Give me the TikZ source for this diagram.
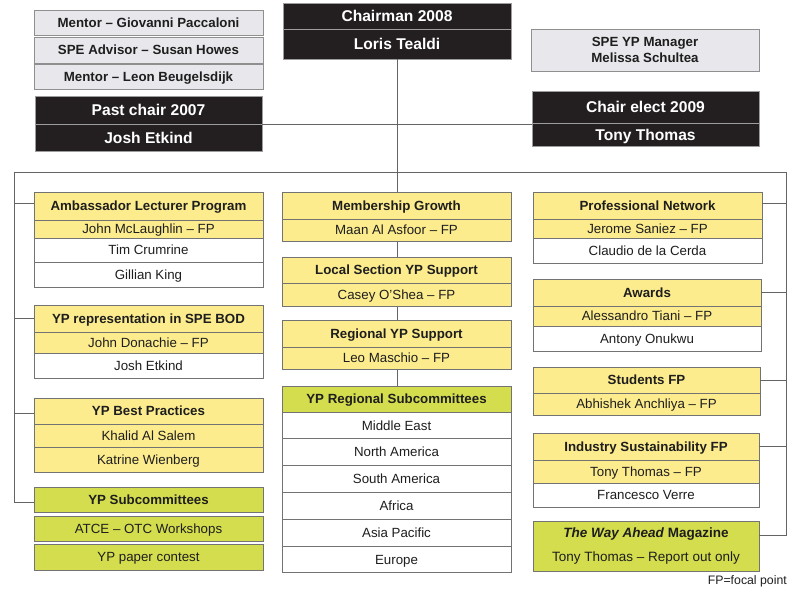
\documentclass[tikz,border=0pt]{standalone}
\usepackage{fontspec}
\setmainfont{Liberation Sans}
\definecolor{blk}{RGB}{35,31,32}
\definecolor{gryfill}{RGB}{232,232,236}
\definecolor{edge}{RGB}{115,115,115}
\definecolor{ylw}{RGB}{252,236,142}
\definecolor{grn}{RGB}{212,221,78}
\definecolor{txt}{RGB}{30,30,30}
\definecolor{wire}{RGB}{100,100,100}
\tikzset{
  base/.style={draw=edge, line width=0.9pt, inner sep=0pt, outer sep=0pt, anchor=north west,
    text=txt, align=center, font=\fontsize{13.3}{15.5}\selectfont},
  cell/.style={base, text height=9.5pt, text depth=0pt},
  hdr/.style={cell, font=\bfseries\fontsize{13.3}{15.5}\selectfont},
  yl/.style={cell, fill=ylw},
  yh/.style={hdr, fill=ylw},
  wh/.style={cell, fill=white},
  gn/.style={cell, fill=grn},
  gh/.style={hdr, fill=grn},
  gr/.style={hdr, fill=gryfill, draw=edge!80},
  bk/.style={hdr, fill=blk, draw=edge!70, text=white, font=\bfseries\fontsize{15.6}{17}\selectfont,
    text height=11.2pt, text depth=0pt},
  wire/.style={draw=wire, line width=0.9pt}
}
\newcommand\cb[7]{\node[#2, minimum width=#5pt, minimum height=#6pt] (#1) at (#3,#4) {#7};}
\begin{document}
\begin{tikzpicture}[x=1pt,y=-1pt]
\useasboundingbox (0,0) rectangle (800,593);
% bus coordinates
\coordinate (busL) at (14,172);
\coordinate (busR) at (786,172);
\coordinate (bendL) at (14,502);
\coordinate (bendR) at (786,535);
\coordinate (l1) at (14,203);
\coordinate (l2) at (14,318);
\coordinate (l3) at (14,413);
\coordinate (r1) at (786,203);
\coordinate (r2) at (786,292);
\coordinate (r3) at (786,380);
\coordinate (r4) at (786,446);
% top boxes
\cb{m1}{gr}{34}{10}{229}{25}{Mentor – Giovanni Paccaloni}
\cb{m2}{gr}{34}{37}{229}{26}{SPE Advisor – Susan Howes}
\cb{m3}{gr}{34}{64}{229}{25}{Mentor – Leon Beugelsdijk}
\cb{pc1}{bk}{35}{96}{227}{28}{Past chair 2007}
\cb{pc2}{bk}{35}{124}{227}{27}{Josh Etkind}
\cb{ch1}{bk}{283}{3}{228}{26}{Chairman 2008}
\cb{ch2}{bk}{283}{29}{228}{30}{Loris Tealdi}
\node[base, fill=gryfill, draw=edge!80, font=\bfseries\fontsize{13.3}{15.7}\selectfont,
  minimum width=228pt, minimum height=42pt] (mgr) at (531,29) {SPE YP Manager\\Melissa Schultea};
\cb{ce1}{bk}{532}{91}{227}{32}{Chair elect 2009}
\cb{ce2}{bk}{532}{123}{227}{23}{Tony Thomas}
% left column
\cb{amb}{yh}{34}{192}{229}{28}{Ambassador Lecturer Program}
\cb{amb1}{yl}{34}{220}{229}{18}{John McLaughlin – FP}
\cb{amb2}{wh}{34}{238}{229}{24}{Tim Crumrine}
\cb{amb3}{wh}{34}{262}{229}{25}{Gillian King}
\cb{bod}{yh}{34}{305}{229}{27}{YP representation in SPE BOD}
\cb{bod1}{yl}{34}{332}{229}{21}{John Donachie – FP}
\cb{bod2}{wh}{34}{353}{229}{25}{Josh Etkind}
\cb{bp}{yh}{34}{398}{229}{26}{YP Best Practices}
\cb{bp1}{yl}{34}{424}{229}{23}{Khalid Al Salem}
\cb{bp2}{yl}{34}{447}{229}{25}{Katrine Wienberg}
\cb{sub}{gh}{34}{487}{229}{25}{YP Subcommittees}
\cb{sub1}{gn}{34}{516}{229}{25}{ATCE – OTC Workshops}
\cb{sub2}{gn}{34}{544}{229}{26}{YP paper contest}
% middle column
\draw[wire] (ch2.south) -- (ch2.south |- busL);
\draw[wire] (busL) -- (busR);
\draw[wire] (ch2.south |- busL) -- (397,386) coordinate (yrstop);
\draw[wire] (pc2.north east) -- (pc2.north east -| ce1.west);
\cb{mg}{yh}{282}{192}{229}{27}{Membership Growth}
\cb{mg1}{yl}{282}{219}{229}{22}{Maan Al Asfoor – FP}
\cb{ls}{yh}{282}{257}{229}{26}{Local Section YP Support}
\cb{ls1}{yl}{282}{283}{229}{23}{Casey O’Shea – FP}
\cb{rg}{yh}{282}{320}{229}{27}{Regional YP Support}
\cb{rg1}{yl}{282}{347}{229}{22}{Leo Maschio – FP}
\cb{yrs}{gh}{282}{386}{229}{26}{YP Regional Subcommittees}
\cb{yr1}{wh}{282}{412.0}{229}{26.8}{Middle East}
\cb{yr2}{wh}{282}{438.8}{229}{26.8}{North America}
\cb{yr3}{wh}{282}{465.6}{229}{26.8}{South America}
\cb{yr4}{wh}{282}{492.4}{229}{26.8}{Africa}
\cb{yr5}{wh}{282}{519.2}{229}{26.8}{Asia Pacific}
\cb{yr6}{wh}{282}{546.0}{229}{26.8}{Europe}
% right column
\cb{pn}{yh}{533}{192}{229}{27}{Professional Network}
\cb{pn1}{yl}{533}{219}{229}{19}{Jerome Saniez – FP}
\cb{pn2}{wh}{533}{238}{229}{25}{Claudio de la Cerda}
\cb{aw}{yh}{533}{279}{228}{27}{Awards}
\cb{aw1}{yl}{533}{306}{228}{20}{Alessandro Tiani – FP}
\cb{aw2}{wh}{533}{326}{228}{25}{Antony Onukwu}
\cb{st}{yh}{533}{367}{227}{26}{Students FP}
\cb{st1}{yl}{533}{393}{227}{22}{Abhishek Anchliya – FP}
\cb{is}{yh}{533}{433}{226}{27}{Industry Sustainability FP}
\cb{is1}{yl}{533}{460}{226}{23}{Tony Thomas – FP}
\cb{is2}{wh}{533}{483}{226}{24}{Francesco Verre}
\node[base, fill=grn, minimum width=226pt, minimum height=50pt, font=\fontsize{13.5}{24}\selectfont] (wa) at (533,521)
  {\textbf{\textit{The Way Ahead} Magazine}\\Tony Thomas – Report out only};
% bus branches
\draw[wire] (busL) -- (bendL) -- (bendL -| sub.west);
\draw[wire] (l1) -- (l1 -| amb.west);
\draw[wire] (l2) -- (l2 -| bod.west);
\draw[wire] (l3) -- (l3 -| bp.west);
\draw[wire] (busR) -- (bendR) -- (bendR -| wa.east);
\draw[wire] (r1) -- (r1 -| pn.east);
\draw[wire] (r2) -- (r2 -| aw.east);
\draw[wire] (r3) -- (r3 -| st.east);
\draw[wire] (r4) -- (r4 -| is.east);
\node[anchor=east, text=txt, inner sep=0pt, font=\fontsize{12.3}{14}\selectfont] (fp) at (787,581) {FP=focal point};
\end{tikzpicture}
\end{document}
